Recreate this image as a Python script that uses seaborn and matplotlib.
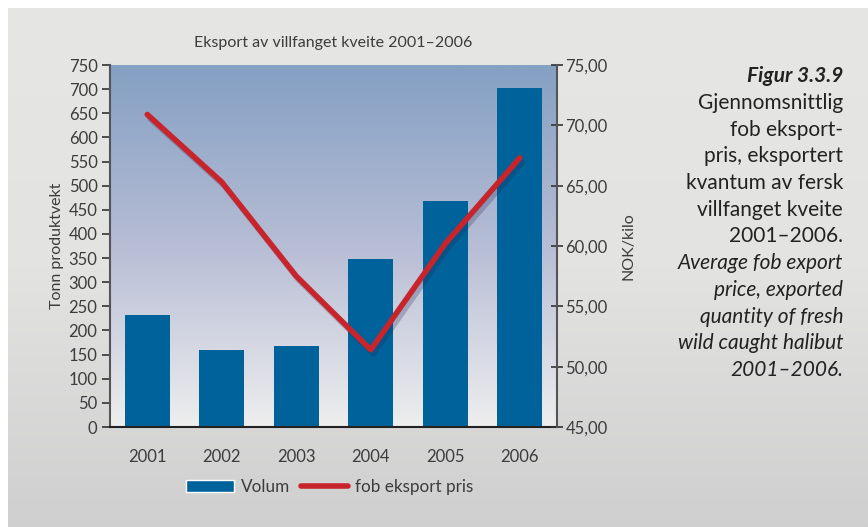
import numpy as np
import pandas as pd
import matplotlib
matplotlib.use('Agg')
import matplotlib.pyplot as plt
import matplotlib.patheffects as pe
from matplotlib.colors import LinearSegmentedColormap
from matplotlib.patches import Patch
from matplotlib.lines import Line2D
import seaborn as sns

# Values
years = ['2001', '2002', '2003', '2004', '2005', '2006']
volum = [233, 160, 168, 349, 469, 703]           # Tonn produktvekt
pris = [70.9, 65.3, 57.5, 51.4, 60.2, 67.3]      # NOK/kilo

caption_no = ['Gjennomsnittlig', 'fob eksport-', 'pris, eksportert',
              'kvantum av fersk', 'villfanget kveite', '2001–2006.']
caption_en = ['Average fob export', 'price, exported', 'quantity of fresh',
              'wild caught halibut', '2001–2006.']

df = pd.DataFrame({'year': years, 'volum': volum, 'pris': pris})

sns.set_theme(style='white')
plt.rcParams['font.family'] = ['Lato', 'DejaVu Sans']
txt = '#3c3c3c'
blue = '#00629a'
red = '#c8242b'

fig = plt.figure(figsize=(8.68, 5.27), dpi=100)
fig.patch.set_facecolor('white')

# grey gradient panel behind everything
bg = fig.add_axes([8 / 868, 0, 1 - 8 / 868, 1 - 8 / 527], zorder=-10)
grey = LinearSegmentedColormap.from_list('g', ['#e6e6e5', '#e3e3e2', '#cfcfcf'])
bg.imshow(np.linspace(0, 1, 256).reshape(-1, 1), cmap=grey, aspect='auto', extent=[0, 1, 0, 1])
bg.set_axis_off()

ax = fig.add_axes([110 / 868, 1 - 427 / 527, (557 - 110) / 868, (427 - 65) / 527])
plot_bg = LinearSegmentedColormap.from_list('b', ['#84a0c3', '#b7bdd5', '#eeeeee'])
ax.imshow(np.linspace(0, 1, 256).reshape(-1, 1), cmap=plot_bg, aspect='auto',
          extent=[0, 1, 0, 1], transform=ax.transAxes, zorder=0)

sns.barplot(data=df, x='year', y='volum', color=blue, width=0.6, saturation=1, ax=ax,
            linewidth=0, edgecolor='none', zorder=2)
ax.set_xlim(-0.5, 5.5)
ax.set_ylim(0, 750)
ax.set_yticks(range(0, 751, 50))
ax.set_xlabel('')
ax.set_ylabel('Tonn produktvekt', color=txt, fontsize=11.5, labelpad=3)
ax.set_xticks(np.arange(-0.5, 5.6, 1), minor=False)
ax.set_xticklabels([])
ax.set_xticks(np.arange(len(years)), minor=True)
ax.set_xticklabels(years, minor=True)
ax.tick_params(axis='x', which='major', direction='inout', length=12, width=1.2, color='#333333')
ax.tick_params(axis='x', which='minor', length=0, pad=16, labelsize=12, labelcolor=txt)
ax.tick_params(axis='y', direction='out', length=6, width=1.2, color='#333333', left=True,
               labelsize=12, labelcolor=txt, pad=3)
for s in ['top', 'right']:
    ax.spines[s].set_visible(False)
ax.spines['left'].set_color('#555555')
ax.spines['left'].set_linewidth(1.5)
ax.spines['bottom'].set_color('#222222')
ax.spines['bottom'].set_linewidth(1.5)

ax2 = ax.twinx()
sns.lineplot(x=np.arange(len(years)), y=df['pris'], color=red, linewidth=4, ax=ax2,
             solid_capstyle='round',
             path_effects=[pe.SimpleLineShadow(offset=(2, -3), shadow_color='#1a2a55', alpha=0.25),
                           pe.Normal()])
ax2.set_ylim(45, 75)
ax2.set_yticks(range(45, 76, 5))
ax2.set_yticklabels([f'{v},00' for v in range(45, 76, 5)])
ax2.set_ylabel('NOK/kilo', color=txt, fontsize=11.5, labelpad=10)
ax2.tick_params(axis='y', direction='inout', length=8, width=1.2, color='#333333', right=True,
                labelsize=12, labelcolor=txt, pad=2)
for s in ['top', 'left', 'bottom']:
    ax2.spines[s].set_visible(False)
ax2.spines['right'].set_color('#555555')
ax2.spines['right'].set_linewidth(1.5)
ax2.set_xlim(-0.5, 5.5)

fig.text(333 / 868, 1 - 43 / 527, 'Eksport av villfanget kveite 2001–2006', ha='center', va='center',
         color=txt, fontsize=11.5)

# caption on the right
x_cap = 843 / 868
fig.text(x_cap, 1 - 76 / 527, 'Figur 3.3.9', ha='right', va='center', fontsize=15,
         fontweight='bold', fontstyle='italic', color='#222222')
y = 103
for line in caption_no:
    fig.text(x_cap, 1 - y / 527, line, ha='right', va='center', fontsize=15, color='#222222')
    y += 26.7
for line in caption_en:
    fig.text(x_cap, 1 - y / 527, line, ha='right', va='center', fontsize=15, fontstyle='italic',
             color='#222222')
    y += 26.7

handles = [Patch(facecolor=blue, label='Volum'),
           Line2D([0], [0], color=red, linewidth=4, solid_capstyle='round', label='fob eksport pris')]
fig.legend(handles=handles, loc='center', bbox_to_anchor=(330 / 868, 1 - 487 / 527), ncol=2,
           frameon=False, fontsize=12.3, handlelength=2.8, handleheight=0.75, columnspacing=0.6,
           handletextpad=0.4, labelcolor=txt)

fig.savefig('out.png', dpi=100)
